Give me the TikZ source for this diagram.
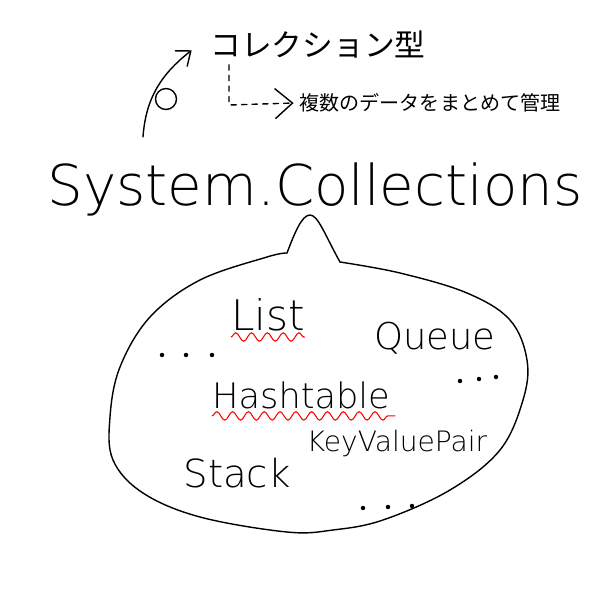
\documentclass[tikz,border=0pt]{standalone}
\usepackage{fontspec}
\setmainfont{DejaVu Sans ExtraLight}
\newfontfamily\jpfont{Noto Sans CJK JP}
\usetikzlibrary{arrows.meta,decorations.pathmorphing}

\begin{document}
\begin{tikzpicture}[x=0.02cm, y=-0.02cm,
    word/.style={inner sep=0pt, anchor=base, font=\fontsize{#1}{#1}\selectfont},
    jp/.style={font=\jpfont\fontsize{#1}{#1}\selectfont},
    dot/.style={circle, fill=black, inner sep=0.9pt},
    wave/.style={red, line width=0.6pt, decorate,
      decoration={snake, amplitude=2.4pt, segment length=9pt}},
    line/.style={line width=0.8pt, line cap=round}]
    \useasboundingbox (0,0) rectangle (600,600);
    % Heading and its note
    \node[jp=17.5] (title) at (318,45) {コレクション型};
    \node[jp=11.4] (desc) at (430,103) {複数のデータをまとめて管理};
    \node[word=32] (sys) at (315,205) {System.Collections};
    % Mark with the curved arrow
    \node[draw, circle, line width=0.8pt, minimum size=0.42cm, inner sep=0pt] (mark) at (166,99) {};
    \coordinate (tail) at (143,137);
    \draw[line, -{Straight Barb[length=2.5mm, width=4mm]}] (tail) to[out=86, in=218] ([xshift=-0.25cm,yshift=-3pt]title.west);
    % Dashed note connector
    \coordinate (bend) at (229,105);
    \draw[line, dashed, -{Straight Barb[length=3.5mm, width=6mm]}] (title.south -| bend) -- (bend) -- (desc.west);
    % Speech bubble
    \draw[line] (287,253) .. controls (295,232) and (302,215) .. (310,215)
      .. controls (318,215) and (325,235) .. (340,262);
    \draw[line] plot[smooth, tension=0.6] coordinates {(340,262) (400,273) (467,293)
      (510,320) (527,360) (523,400) (500,450) (450,490) (383,520) (333,530) (287,532)
      (200,517) (143,493) (113,460) (110,417) (120,367) (150,317) (200,280) (267,257) (287,253)};
    % Words inside
    \node[word=24] (list) at (268,330) {List};
    \node[word=21] (queue) at (435,349) {Queue};
    \node[word=20] (hash) at (301,408) {Hashtable};
    \node[word=16] (kvp) at (397,451) {KeyValuePair};
    \node[word=22] (stack) at (237,487) {Stack};
    \draw[wave] ([yshift=-4pt]list.base west) -- ([yshift=-4pt]list.base east);
    \draw[wave] ([yshift=-4.5pt]hash.base west) -- ([xshift=3pt,yshift=-4.5pt]hash.base east);
    % Dots
    \node[dot] (dl1) at (162,355) {}; \node[dot] (dl2) at (186,355) {}; \node[dot] (dl3) at (212,355) {};
    \node[dot] (dr1) at (460,381) {}; \node[dot] (dr2) at (479,379) {}; \node[dot] (dr3) at (496,377) {};
    \node[dot] (db1) at (363,508) {}; \node[dot] (db2) at (388,507) {}; \node[dot] (db3) at (412,506) {};
\end{tikzpicture}
\end{document}
